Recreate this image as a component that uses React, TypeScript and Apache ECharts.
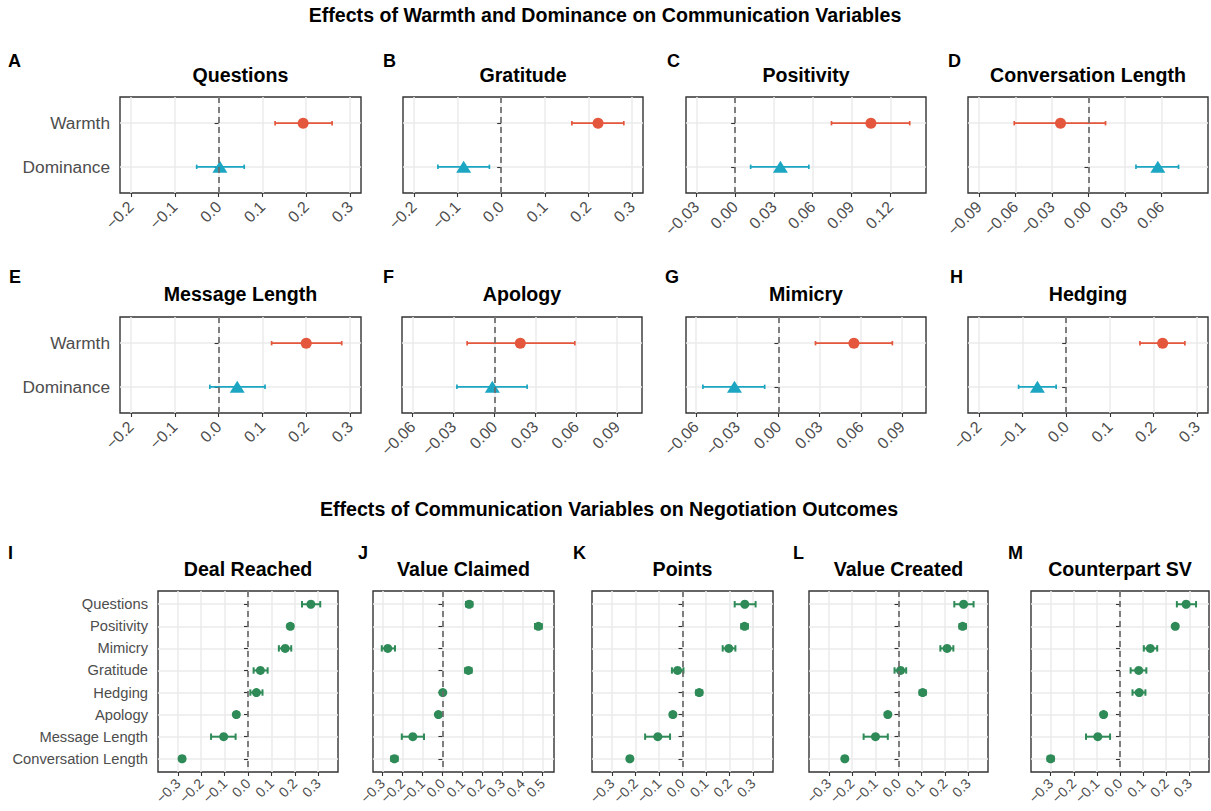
import React, { useEffect, useRef } from 'react';
import * as echarts from 'echarts';

const FONT = '"Liberation Sans", Arial, Helvetica, sans-serif';
const RED = '#E4573D';
const TEAL = '#1DA6C2';
const GREEN = '#2E8B57';

// ---------- Top figure: Warmth / Dominance -> communication variables ----------
const TOP_PREDICTORS = ['Warmth', 'Dominance'];
const COMM_TITLES = ['Questions', 'Gratitude', 'Positivity', 'Conversation Length', 'Message Length', 'Apology', 'Mimicry', 'Hedging'];
const COMM_LETTERS = ['A', 'B', 'C', 'D', 'E', 'F', 'G', 'H'];
const WARMTH_EST = [0.193, 0.222, 0.105, -0.023, 0.2, 0.019, 0.055, 0.221];
const WARMTH_LO = [0.129, 0.162, 0.0745, -0.061, 0.121, -0.02, 0.027, 0.169];
const WARMTH_HI = [0.259, 0.281, 0.135, 0.014, 0.281, 0.059, 0.083, 0.272];
const DOMINANCE_EST = [0.003, -0.086, 0.035, 0.057, 0.0425, -0.0015, -0.032, -0.066];
const DOMINANCE_LO = [-0.05, -0.145, 0.012, 0.039, -0.02, -0.0275, -0.055, -0.109];
const DOMINANCE_HI = [0.0585, -0.027, 0.057, 0.074, 0.106, 0.024, -0.01, -0.023];
const TICKS_TENTHS = [-0.2, -0.1, 0, 0.1, 0.2, 0.3];
const COMM_TICKS = [
  TICKS_TENTHS,
  TICKS_TENTHS,
  [-0.03, 0, 0.03, 0.06, 0.09, 0.12],
  [-0.09, -0.06, -0.03, 0, 0.03, 0.06],
  TICKS_TENTHS,
  [-0.06, -0.03, 0, 0.03, 0.06, 0.09],
  [-0.06, -0.03, 0, 0.03, 0.06, 0.09],
  TICKS_TENTHS,
];
const COMM_DECIMALS = [1, 1, 2, 2, 1, 2, 2, 1];
const COMM_RANGES = [
  [-0.225, 0.325], [-0.225, 0.325], [-0.038, 0.1476], [-0.099, 0.0982],
  [-0.225, 0.325], [-0.0678, 0.1083], [-0.0673, 0.1075], [-0.225, 0.325],
];

// ---------- Bottom figure: communication variables -> outcomes ----------
const COMM_VARS = ['Questions', 'Positivity', 'Mimicry', 'Gratitude', 'Hedging', 'Apology', 'Message Length', 'Conversation Length'];
const OUTCOME_TITLES = ['Deal Reached', 'Value Claimed', 'Points', 'Value Created', 'Counterpart SV'];
const OUTCOME_LETTERS = ['I', 'J', 'K', 'L', 'M'];

const DEAL_EST = [0.269, 0.181, 0.159, 0.053, 0.036, -0.05, -0.104, -0.282];
const DEAL_LO = [0.231, 0.17, 0.132, 0.024, 0.01, -0.06, -0.158, -0.292];
const DEAL_HI = [0.309, 0.192, 0.185, 0.084, 0.062, -0.04, -0.053, -0.272];

const CLAIMED_EST = [0.134, 0.48, -0.273, 0.13, 0.002, -0.02, -0.148, -0.24];
const CLAIMED_LO = [0.118, 0.463, -0.303, 0.114, -0.008, -0.03, -0.203, -0.256];
const CLAIMED_HI = [0.15, 0.497, -0.237, 0.146, 0.012, -0.01, -0.092, -0.224];

const POINTS_EST = [0.265, 0.264, 0.197, -0.021, 0.071, -0.041, -0.105, -0.224];
const POINTS_LO = [0.222, 0.25, 0.171, -0.045, 0.058, -0.051, -0.159, -0.234];
const POINTS_HI = [0.311, 0.278, 0.225, 0.004, 0.084, -0.031, -0.053, -0.214];

const CREATED_EST = [0.28, 0.276, 0.209, 0.009, 0.104, -0.046, -0.099, -0.231];
const CREATED_LO = [0.24, 0.262, 0.18, -0.017, 0.091, -0.056, -0.15, -0.241];
const CREATED_HI = [0.323, 0.29, 0.236, 0.033, 0.117, -0.036, -0.046, -0.221];

const CSV_EST = [0.286, 0.239, 0.131, 0.081, 0.083, -0.071, -0.096, -0.3];
const CSV_LO = [0.246, 0.229, 0.103, 0.046, 0.054, -0.081, -0.147, -0.313];
const CSV_HI = [0.329, 0.249, 0.161, 0.114, 0.11, -0.061, -0.043, -0.287];

const OUTCOME_EST = [DEAL_EST, CLAIMED_EST, POINTS_EST, CREATED_EST, CSV_EST];
const OUTCOME_LO = [DEAL_LO, CLAIMED_LO, POINTS_LO, CREATED_LO, CSV_LO];
const OUTCOME_HI = [DEAL_HI, CLAIMED_HI, POINTS_HI, CREATED_HI, CSV_HI];
const TICKS_WIDE = [-0.3, -0.2, -0.1, 0, 0.1, 0.2, 0.3];
const OUTCOME_TICKS = [
  TICKS_WIDE,
  [-0.3, -0.2, -0.1, 0, 0.1, 0.2, 0.3, 0.4, 0.5],
  TICKS_WIDE,
  TICKS_WIDE,
  TICKS_WIDE,
];
const OUTCOME_RANGES = [[-0.385, 0.385], [-0.347, 0.558], [-0.385, 0.385], [-0.385, 0.385], [-0.385, 0.385]];

// ---------- Layout ----------
const TOP_GRIDS = [
  [120, 97, 241, 96], [403, 97, 240, 96], [686, 97, 240, 96], [968, 97, 240, 96],
  [120, 317, 241, 96], [402, 317, 240, 96], [686, 317, 240, 96], [968, 317, 240, 96],
];
const TOP_LETTER_POS = [
  [8, 61], [383, 61], [667, 61], [948, 61],
  [9, 277], [383, 277], [665, 277], [950, 277],
];
const TOP_TITLE_Y = [75, 75, 75, 75, 294, 294, 294, 294];
const BOTTOM_GRIDS = [
  [158, 591, 180, 181], [373, 591, 181, 181], [592, 591, 181, 181], [809, 591, 179, 181], [1031, 591, 178, 181],
];
const BOTTOM_LETTER_POS = [[8, 553], [358, 553], [573, 553], [793, 553], [1008, 553]];
const BOTTOM_TITLE_Y = 569;
const TITLE_SIZE = 19.6;

function fmt(v: number, d: number): string {
  const s = Math.abs(v) < 1e-9 ? (0).toFixed(d) : v.toFixed(d);
  return s.replace('-', '\u2212');
}

function txt(text: string, x: number, y: number, size: number, align: string) {
  return {
    type: 'text',
    x,
    y,
    silent: true,
    style: {
      text,
      fill: '#000000',
      fontSize: size,
      fontWeight: 'bold',
      fontFamily: FONT,
      textAlign: align,
      textVerticalAlign: 'middle',
      align,
      verticalAlign: 'middle',
    },
  };
}

function makeX(gi: number, range: number[], ticks: number[], dec: number, fontSize: number, margin: number) {
  return {
    type: 'value',
    gridIndex: gi,
    min: range[0],
    max: range[1],
    axisLine: { show: false },
    axisTick: { show: true, length: 4, customValues: ticks, lineStyle: { color: '#333333', width: 1.1 } },
    axisLabel: {
      show: true,
      customValues: ticks,
      rotate: 45,
      margin,
      fontSize,
      color: '#4D4D4D',
      fontFamily: FONT,
      formatter: (v: number) => fmt(v, dec),
    },
    splitLine: { show: true, lineStyle: { color: '#EBEBEB', width: 1.5 } },
  };
}

function makeY(gi: number, cats: string[], showLabels: boolean, fontSize: number) {
  const vals = cats.map((_, k) => k + 1);
  return {
    type: 'value',
    gridIndex: gi,
    min: 0.4,
    max: cats.length + 0.6,
    inverse: true,
    axisLine: { show: false },
    axisTick: { show: true, length: 4, customValues: vals, lineStyle: { color: '#333333', width: 1.1 } },
    axisLabel: {
      show: showLabels,
      customValues: vals,
      margin: 10,
      fontSize,
      color: '#4D4D4D',
      fontFamily: FONT,
      formatter: (v: number) => cats[Math.round(v) - 1] ?? '',
    },
    splitLine: { show: true, lineStyle: { color: '#EBEBEB', width: 1.5 } },
  };
}

function errSeries(gi: number, data: number[][], color: string, capHalf: number, lw: number, withZero: boolean) {
  const s: any = {
    type: 'custom',
    xAxisIndex: gi,
    yAxisIndex: gi,
    silent: true,
    z: 2,
    dimensions: ['lo', 'hi', 'y'],
    encode: { x: [0, 1], y: 2 },
    data,
    renderItem: (_params: any, api: any) => {
      const lo = api.value(0);
      const hi = api.value(1);
      const y = api.value(2);
      const p1 = api.coord([lo, y]);
      const p2 = api.coord([hi, y]);
      const style = { stroke: color, lineWidth: lw, fill: 'none' };
      return {
        type: 'group',
        children: [
          { type: 'line', shape: { x1: p1[0], y1: p1[1], x2: p2[0], y2: p2[1] }, style },
          { type: 'line', shape: { x1: p1[0], y1: p1[1] - capHalf, x2: p1[0], y2: p1[1] + capHalf }, style },
          { type: 'line', shape: { x1: p2[0], y1: p2[1] - capHalf, x2: p2[0], y2: p2[1] + capHalf }, style },
        ],
      };
    },
  };
  if (withZero) {
    s.markLine = {
      silent: true,
      symbol: ['none', 'none'],
      label: { show: false },
      lineStyle: { color: '#6B6B6B', type: [6, 4], width: 1.7 },
      emphasis: { disabled: true },
      data: [{ xAxis: 0 }],
    };
  }
  return s;
}

function pointSeries(gi: number, data: number[][], color: string, symbol: string, size: any) {
  return {
    type: 'scatter',
    xAxisIndex: gi,
    yAxisIndex: gi,
    silent: true,
    z: 3,
    symbol,
    symbolSize: size,
    itemStyle: { color, opacity: 1 },
    emphasis: { disabled: true },
    data,
  };
}

function buildOption() {
  const grid: any[] = [];
  const xAxis: any[] = [];
  const yAxis: any[] = [];
  const series: any[] = [];
  const graphic: any[] = [];

  graphic.push(txt('Effects of Warmth and Dominance on Communication Variables', 605, 15, TITLE_SIZE, 'center'));
  graphic.push(txt('Effects of Communication Variables on Negotiation Outcomes', 609, 509, TITLE_SIZE, 'center'));

  COMM_TITLES.forEach((title, i) => {
    const g = TOP_GRIDS[i];
    const gi = grid.length;
    grid.push({
      left: g[0], top: g[1], width: g[2], height: g[3],
      show: true, borderColor: '#333333', borderWidth: 1.4, backgroundColor: 'transparent',
      containLabel: false, outerBoundsMode: 'none',
    });
    xAxis.push(makeX(gi, COMM_RANGES[i], COMM_TICKS[i], COMM_DECIMALS[i], 16, 11));
    yAxis.push(makeY(gi, TOP_PREDICTORS, i === 0 || i === 4, 17.3));
    series.push(errSeries(gi, [[WARMTH_LO[i], WARMTH_HI[i], 1]], RED, 2.2, 1.7, true));
    series.push(errSeries(gi, [[DOMINANCE_LO[i], DOMINANCE_HI[i], 2]], TEAL, 2.2, 1.7, false));
    series.push(pointSeries(gi, [[WARMTH_EST[i], 1]], RED, 'circle', 11));
    series.push(pointSeries(gi, [[DOMINANCE_EST[i], 2]], TEAL, 'triangle', [15, 12]));
    graphic.push(txt(title, g[0] + g[2] / 2, TOP_TITLE_Y[i], TITLE_SIZE, 'center'));
    graphic.push(txt(COMM_LETTERS[i], TOP_LETTER_POS[i][0], TOP_LETTER_POS[i][1], 18, 'left'));
  });

  OUTCOME_TITLES.forEach((title, j) => {
    const g = BOTTOM_GRIDS[j];
    const gi = grid.length;
    grid.push({
      left: g[0], top: g[1], width: g[2], height: g[3],
      show: true, borderColor: '#333333', borderWidth: 1.4, backgroundColor: 'transparent',
      containLabel: false, outerBoundsMode: 'none',
    });
    xAxis.push(makeX(gi, OUTCOME_RANGES[j], OUTCOME_TICKS[j], 1, 14, 9));
    yAxis.push(makeY(gi, COMM_VARS, j === 0, 14.7));
    const errData = COMM_VARS.map((_, k) => [OUTCOME_LO[j][k], OUTCOME_HI[j][k], k + 1]);
    const ptData = COMM_VARS.map((_, k) => [OUTCOME_EST[j][k], k + 1]);
    series.push(errSeries(gi, errData, GREEN, 3.2, 2, true));
    series.push(pointSeries(gi, ptData, GREEN, 'circle', 9));
    graphic.push(txt(title, g[0] + g[2] / 2, BOTTOM_TITLE_Y, TITLE_SIZE, 'center'));
    graphic.push(txt(OUTCOME_LETTERS[j], BOTTOM_LETTER_POS[j][0], BOTTOM_LETTER_POS[j][1], 18, 'left'));
  });

  return {
    animation: false,
    backgroundColor: '#ffffff',
    textStyle: { fontFamily: FONT },
    grid,
    xAxis,
    yAxis,
    series,
    graphic,
  };
}

export default function App() {
  const ref = useRef<HTMLDivElement>(null);
  useEffect(() => {
    if (!ref.current) return;
    const chart = echarts.init(ref.current, null, { renderer: 'svg' });
    chart.setOption(buildOption() as any);
    return () => {
      chart.dispose();
    };
  }, []);
  return (
    <div
      ref={ref}
      style={{ position: 'absolute', left: 0, top: 0, width: 1211, height: 811, background: '#ffffff' }}
    />
  );
}
